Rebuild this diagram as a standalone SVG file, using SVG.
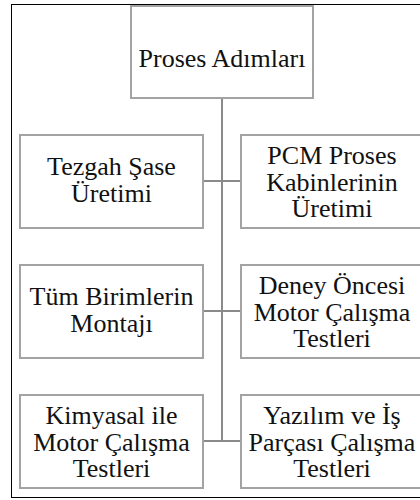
<svg xmlns="http://www.w3.org/2000/svg" width="420" height="500" viewBox="0 0 420 500">
<defs>
<style>
.box{fill:#fff;stroke:#a3a3a3;stroke-width:2}
.c{fill:none;stroke:#8a8a8a;stroke-width:2}
.t{font-family:"Liberation Serif","Times New Roman",serif;font-size:26px;fill:#111;text-anchor:middle}
</style>
</defs>
<rect x="0" y="0" width="420" height="500" fill="#fff"/>
<rect x="11.5" y="4.5" width="420" height="493" fill="none" stroke="#000" stroke-width="1"/>
<g id="connectors">
<path class="c" d="M222 98V441M203 181H241M203 311H241M203 441H241"/>
</g>
<g id="n0"><rect class="box" x="131" y="6" width="182" height="92"/><text class="t" x="222" y="67.3">Proses Adımları</text></g>
<g id="n1"><rect class="box" x="20" y="135" width="183" height="93"/><text class="t" x="111.5" y="175">Tezgah Şase</text><text class="t" x="111.5" y="201.7">Üretimi</text></g>
<g id="n2"><rect class="box" x="241" y="135" width="182" height="93"/><text class="t" x="332" y="164">PCM Proses</text><text class="t" x="332" y="190.7">Kabinlerinin</text><text class="t" x="332" y="217.3">Üretimi</text></g>
<g id="n3"><rect class="box" x="20" y="265" width="183" height="93"/><text class="t" x="111.5" y="305">Tüm Birimlerin</text><text class="t" x="111.5" y="331.7">Montajı</text></g>
<g id="n4"><rect class="box" x="241" y="265" width="182" height="93"/><text class="t" x="332" y="294">Deney Öncesi</text><text class="t" x="332" y="320.7">Motor Çalışma</text><text class="t" x="332" y="347.3">Testleri</text></g>
<g id="n5"><rect class="box" x="20" y="395" width="183" height="93"/><text class="t" x="111.5" y="424">Kimyasal ile</text><text class="t" x="111.5" y="450.7">Motor Çalışma</text><text class="t" x="111.5" y="477.3">Testleri</text></g>
<g id="n6"><rect class="box" x="241" y="395" width="182" height="93"/><text class="t" x="332" y="424">Yazılım ve İş</text><text class="t" x="332" y="450.7">Parçası Çalışma</text><text class="t" x="332" y="477.3">Testleri</text></g>
</svg>
